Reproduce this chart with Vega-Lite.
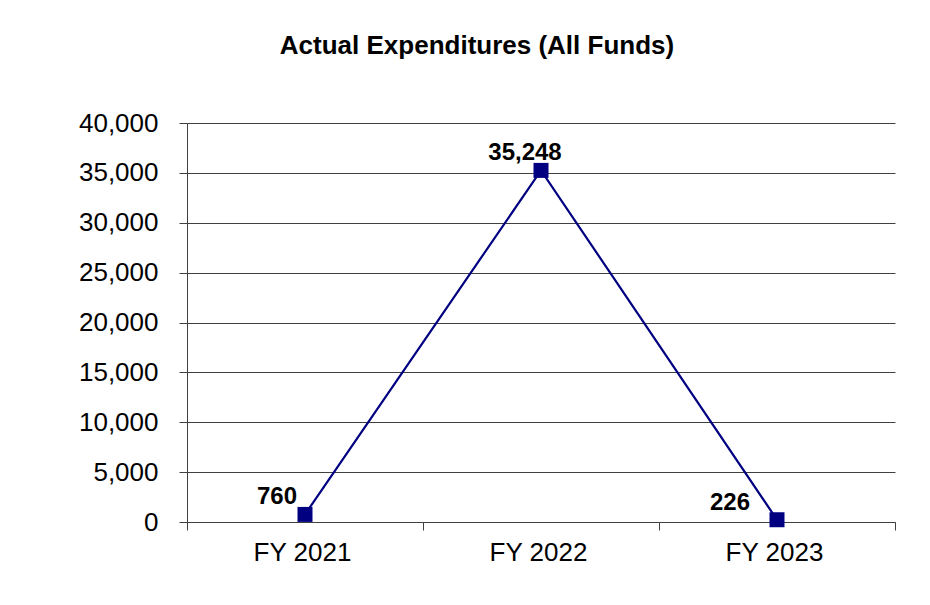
{
  "$schema": "https://vega.github.io/schema/vega-lite/v6.json",
  "width": 708,
  "height": 399,
  "autosize": "none",
  "padding": {"left": 187, "top": 123, "right": 35, "bottom": 83},
  "background": "white",
  "title": {
    "text": "Actual Expenditures (All Funds)",
    "font": "Liberation Sans",
    "fontSize": 26,
    "fontWeight": "bold",
    "color": "black",
    "anchor": "middle",
    "dx": -64,
    "baseline": "alphabetic",
    "offset": 30
  },
  "data": {
    "values": [
      {"year": "FY 2021", "value": 760},
      {"year": "FY 2022", "value": 35248},
      {"year": "FY 2023", "value": 226}
    ]
  },
  "encoding": {
    "x": {
      "field": "year",
      "type": "ordinal",
      "title": null,
      "scale": {"paddingInner": 0, "paddingOuter": 0},
      "axis": {
        "labelAngle": 0,
        "labelFont": "Liberation Sans",
        "labelFontSize": 26,
        "labelColor": "black",
        "labelPadding": 9,
        "labelOffset": -3,
        "tickBand": "extent",
        "tickSize": 8,
        "tickColor": "#404040",
        "domainColor": "#404040",
        "grid": false
      }
    },
    "y": {
      "field": "value",
      "type": "quantitative",
      "title": null,
      "scale": {"domain": [0, 40000], "nice": false},
      "axis": {
        "values": [0, 5000, 10000, 15000, 20000, 25000, 30000, 35000, 40000],
        "format": ",d",
        "labelFont": "Liberation Sans",
        "labelFontSize": 26,
        "labelColor": "black",
        "labelPadding": 21,
        "tickSize": 8,
        "tickColor": "#404040",
        "domainColor": "#404040",
        "grid": true,
        "gridColor": "#404040",
        "gridOpacity": 1
      }
    }
  },
  "layer": [
    {"mark": {"type": "line", "color": "#000080", "strokeWidth": 2.2}},
    {"mark": {"type": "point", "shape": "square", "filled": true, "size": 225, "color": "#000080", "opacity": 1}},
    {
      "transform": [{"filter": "datum.year === 'FY 2021'"}],
      "mark": {"type": "text", "font": "Liberation Sans", "fontSize": 24, "fontWeight": "bold", "color": "black", "align": "right", "baseline": "alphabetic", "dx": -8, "dy": -10},
      "encoding": {"text": {"field": "value", "type": "quantitative", "format": ",d"}}
    },
    {
      "transform": [{"filter": "datum.year === 'FY 2022'"}],
      "mark": {"type": "text", "font": "Liberation Sans", "fontSize": 24, "fontWeight": "bold", "color": "black", "align": "center", "baseline": "alphabetic", "dx": -16, "dy": -10},
      "encoding": {"text": {"field": "value", "type": "quantitative", "format": ",d"}}
    },
    {
      "transform": [{"filter": "datum.year === 'FY 2023'"}],
      "mark": {"type": "text", "font": "Liberation Sans", "fontSize": 24, "fontWeight": "bold", "color": "black", "align": "right", "baseline": "alphabetic", "dx": -27, "dy": -10},
      "encoding": {"text": {"field": "value", "type": "quantitative", "format": ",d"}}
    }
  ],
  "config": {"view": {"stroke": null}}
}
